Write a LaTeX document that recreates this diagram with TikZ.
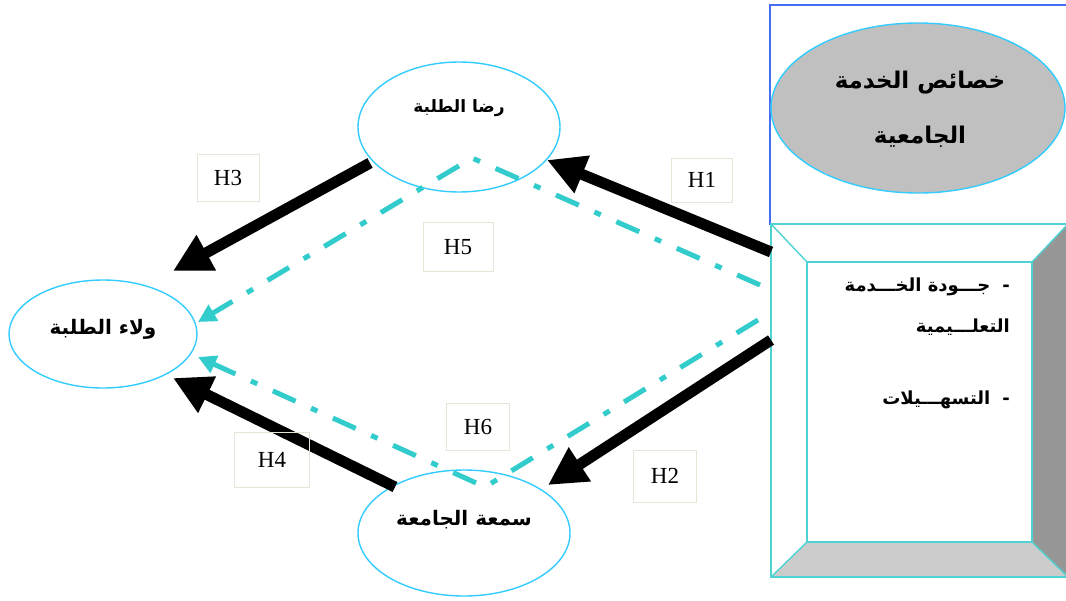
\documentclass[tikz,border=0pt]{standalone}
\usepackage{fontspec}
\usetikzlibrary{arrows.meta,shapes.geometric,calc}
\setmainfont{Liberation Serif}
\newfontfamily\arabicfont[Script=Arabic]{DejaVu Sans}
\TeXXeTstate=1
\definecolor{ecyan}{RGB}{51,204,255}
\definecolor{lcyan}{RGB}{51,204,204}
\definecolor{bcyan}{RGB}{80,210,210}
\definecolor{bblue}{RGB}{70,110,245}
\definecolor{beige}{RGB}{232,228,216}
\definecolor{egrey}{RGB}{192,192,192}
\definecolor{dgrey}{RGB}{150,150,150}
\definecolor{lgrey}{RGB}{204,204,204}
\tikzset{
  ell/.style={ellipse, draw=ecyan, line width=1.4pt, inner sep=0pt},
  hbox/.style={draw=beige, line width=0.9pt, inner sep=0pt, font=\fontsize{23}{25}\selectfont},
  artxt/.style={inner sep=0pt, font=\arabicfont\bfseries\fontsize{#1}{#1}\selectfont},
  blk/.style={line width=11pt, black, -{Triangle[length=38pt,width=38pt]}},
  dashcy/.style={line width=5pt, lcyan, dash pattern=on 25pt off 17pt on 7pt off 17pt, -{Triangle[length=18pt,width=18pt]}},
  bev/.style={bcyan, line width=1.4pt},
}
\begin{document}
\begin{tikzpicture}[x=1pt,y=-1pt]
\useasboundingbox (0,0) rectangle (1066,600);
\fill[white] (0,0) rectangle (1066,600);

% upper blue frame
\draw[bblue, line width=1.4pt] (770,5) rectangle (1075,224);
\node[ell, fill=egrey, minimum width=294pt, minimum height=170pt] (top) at (918,108) {};
\node[artxt=23] (t1) at (920,83) {\beginR خصائص الخدمة\endR};
\node[artxt=23] (t2) at (920,137) {\beginR الجامعية\endR};

% bevelled box
\node[inner sep=0pt, minimum width=297pt, minimum height=353pt, anchor=north west] (box) at (771,224) {};
\fill[dgrey] (1068,224) -- (1068,577) -- (1032,542) -- (1032,262) -- cycle;
\fill[lgrey] (771,577) -- (1068,577) -- (1032,542) -- (807,542) -- cycle;
\draw[bev] (771,224) rectangle (1068,577);
\draw[bev] (807,262) rectangle (1032,542);
\draw[bev] (771,224) -- (807,262) (1068,224) -- (1032,262)
  (1068,577) -- (1032,542) (771,577) -- (807,542);
\node[artxt=18, anchor=east] (b1) at (1010,287) {\beginR -\hspace{12pt}جـــودة الخـــدمة\endR};
\node[artxt=18, anchor=east] (b2) at (1010,327) {\beginR التعلـــيمية\endR};
\node[artxt=18, anchor=east] (b3) at (1010,400) {\beginR -\hspace{12pt}التسهـــيلات\endR};

% ellipses
\node[ell, minimum width=202pt, minimum height=130pt] (rida) at (459,127) {};
\node[artxt=17] (ridat) at (459,108) {\beginR رضا الطلبة\endR};
\node[ell, minimum width=188pt, minimum height=108pt] (wala) at (103,334) {};
\node[artxt=20] (walat) at (103,329) {\beginR ولاء الطلبة\endR};
\node[ell, minimum width=212pt, minimum height=126pt] (sumaa) at (464,533) {};
\node[artxt=20] (sumaat) at (464,520) {\beginR سمعة الجامعة\endR};

% dash-dot connectors
\draw[dashcy] ([shift={(-11,61)}]box.north west) -- ([shift={(13,31)}]rida.center) -- ([shift={(95,-12)}]wala.center);
\draw[dashcy] ([shift={(-13,96)}]box.north west) -- ([shift={(21,-46)}]sumaa.center) -- ([shift={(95,23)}]wala.center);

% black arrows
\draw[blk] ([shift={(0,28)}]box.north west) -- ([shift={(88,33)}]rida.center);
\draw[blk] ([shift={(0,116)}]box.north west) -- ([shift={(84,-48)}]sumaa.center);
\draw[blk] ([shift={(-89,36)}]rida.center) -- ([shift={(70,-63)}]wala.center);
\draw[blk] ([shift={(-69,-46)}]sumaa.center) -- ([shift={(70,44)}]wala.center);

% labels
\node[hbox, minimum width=61pt, minimum height=44pt] (h1) at (702,180) {H1};
\node[hbox, minimum width=63pt, minimum height=52pt] (h2) at (665,476) {H2};
\node[hbox, minimum width=62pt, minimum height=47pt] (h3) at (228,178) {H3};
\node[hbox, minimum width=75pt, minimum height=55pt] (h4) at (272,460) {H4};
\node[hbox, minimum width=70pt, minimum height=49pt] (h5) at (458,247) {H5};
\node[hbox, minimum width=63pt, minimum height=47pt] (h6) at (478,427) {H6};
\end{tikzpicture}
\end{document}
